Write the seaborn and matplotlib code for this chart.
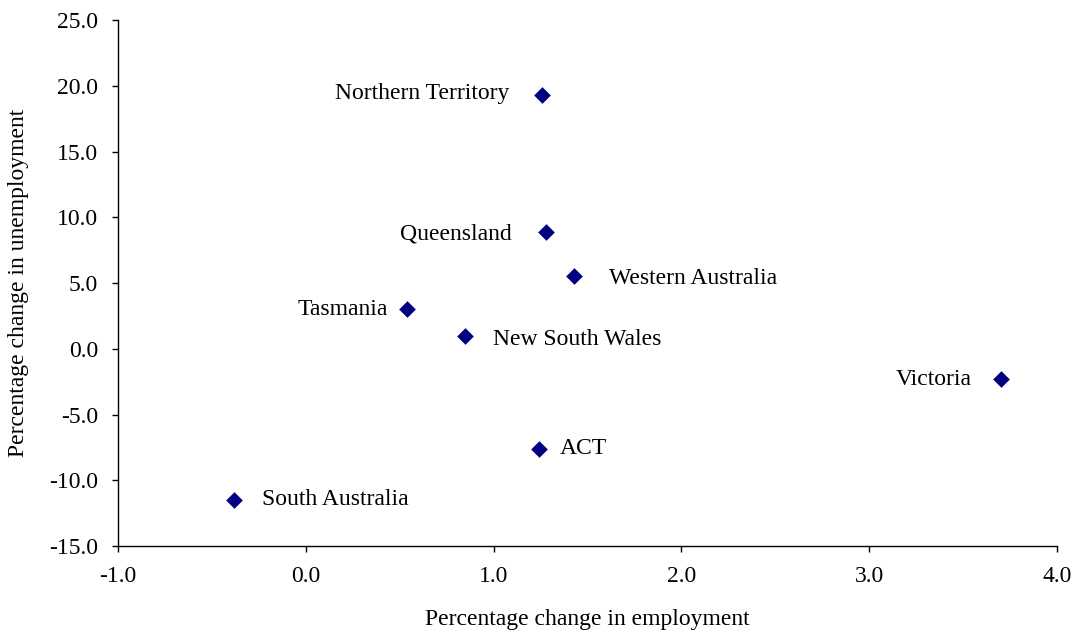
import pandas as pd
import matplotlib
matplotlib.use("Agg")
import matplotlib.pyplot as plt
import seaborn as sns

# Данные
states = ["Northern Territory", "Queensland", "Western Australia", "Tasmania",
          "New South Wales", "Victoria", "ACT", "South Australia"]
employment = [1.26, 1.28, 1.43, 0.54, 0.85, 3.70, 1.24, -0.38]
unemployment = [19.3, 8.9, 5.5, 3.0, 1.0, -2.3, -7.6, -11.5]

# Смещение подписей (пиксели), слева или справа от маркера
label_dx = [-33, -34, 35, -19, 28, -29, 21, 28]
label_dy = [1, -2, -2, 0, -4, 0, 0, 0]

df = pd.DataFrame({"state": states, "emp": employment, "unemp": unemployment})

sns.set_style("white")
plt.rcParams["font.family"] = ["Liberation Serif", "DejaVu Serif"]
plt.rcParams["text.color"] = "black"
plt.rcParams["axes.labelcolor"] = "black"

fs = 17
fig = plt.figure(figsize=(10.79, 6.33), dpi=100)
ax = fig.add_axes([0.1094, 0.1374, 0.8702, 0.831])

sns.scatterplot(data=df, x="emp", y="unemp", marker="D", color="#000080",
                s=72, edgecolor="#000080", linewidth=0, ax=ax, zorder=3)

for name, x, y, dx, dy in zip(states, employment, unemployment, label_dx, label_dy):
    ha = "right" if dx < 0 else "left"
    ax.annotate(name, (x, y), xytext=(dx * 0.72, dy * 0.72), textcoords="offset points",
                ha=ha, va="center", fontsize=fs, color="black")

ax.set_xlim(-1, 4)
ax.set_ylim(-15, 25)
ax.set_xticks([-1, 0, 1, 2, 3, 4])
ax.set_yticks(range(-15, 30, 5))
ax.xaxis.set_major_formatter(matplotlib.ticker.FormatStrFormatter("%.1f"))
ax.yaxis.set_major_formatter(matplotlib.ticker.FormatStrFormatter("%.1f"))

sns.despine(ax=ax)
for sp in ["left", "bottom"]:
    ax.spines[sp].set_color("black")
    ax.spines[sp].set_linewidth(1.0)
ax.tick_params(axis="both", direction="out", length=4.5, width=1, color="black",
               labelsize=fs, labelcolor="black", bottom=True, left=True)
ax.tick_params(axis="x", pad=10)
ax.tick_params(axis="y", pad=10)

ax.set_xlabel("Percentage change in employment", fontsize=fs, labelpad=16)
ax.set_ylabel("Percentage change in unemployment", fontsize=fs, labelpad=14)

fig.savefig("out.png", dpi=100)
